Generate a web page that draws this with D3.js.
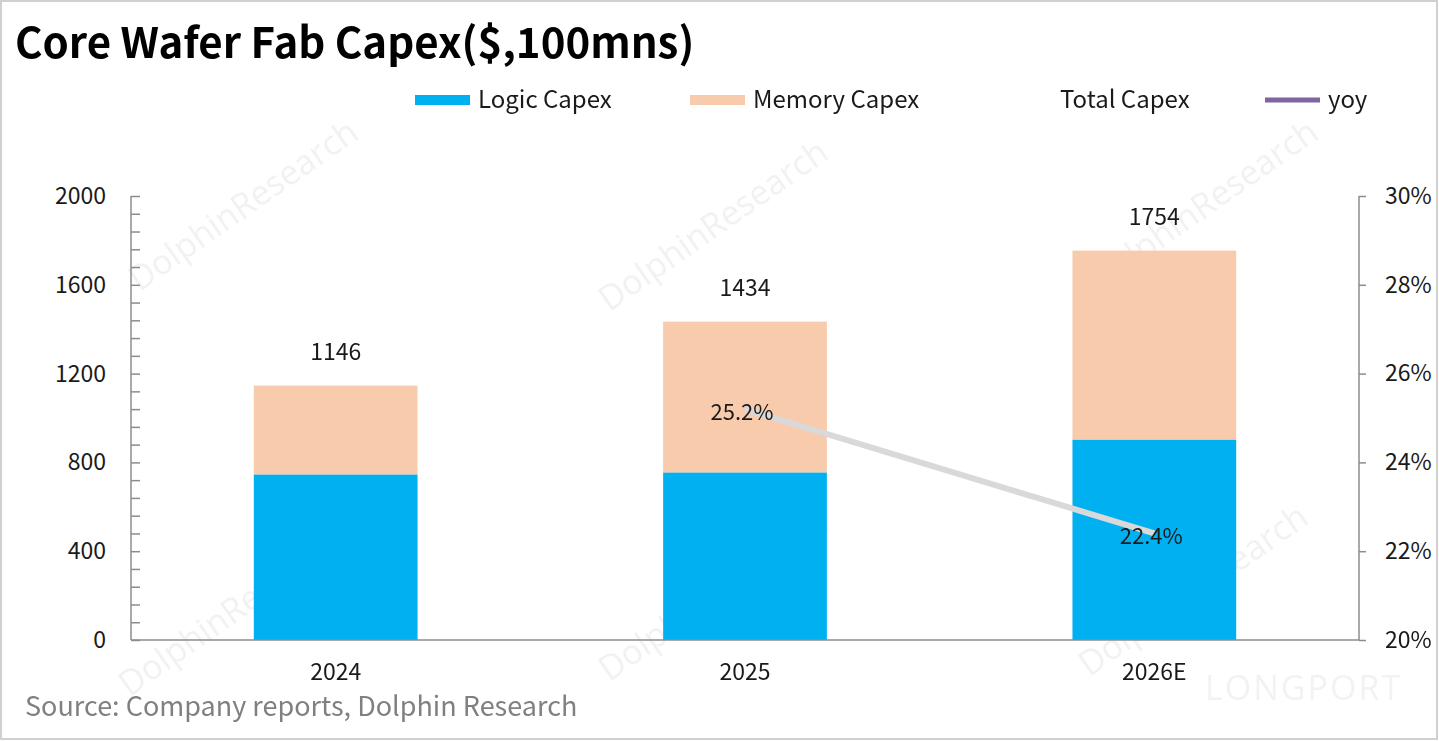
<!DOCTYPE html>
<html><head><meta charset="utf-8">
<script src="https://cdn.jsdelivr.net/npm/d3@7"></script>
<style>
html,body{margin:0;padding:0;background:#fff;}
svg{display:block;font-family:"Noto Sans CJK SC","Noto Sans",sans-serif;}
</style></head>
<body><svg id="c" width="1439" height="741"></svg>
<script>
const categories = ["2024", "2025", "2026E"];
const logicCapex = [746, 755, 903];
const memoryCapex = [400, 679, 851];
const totalCapex = [1146, 1434, 1754];
const yoy = [null, 25.2, 22.4];
const leftTicks = [0, 400, 800, 1200, 1600, 2000];
const rightTicks = [20, 22, 24, 26, 28, 30];
const seriesNames = ["Logic Capex", "Memory Capex", "Total Capex", "yoy"];
const colors = {logic: "#00B0F0", memory: "#F8CBAD", yoy: "#D9D9D9", yoyLegend: "#8064A2"};

const svg = d3.select("#c");
const W = 1439, H = 741;
const m = {left: 131, right: 1359, top: 196, bottom: 640};

// frame
svg.append("rect").attr("x", 1).attr("y", 1).attr("width", W - 3).attr("height", H - 3)
  .attr("fill", "#fff").attr("stroke", "#d0d0d0").attr("stroke-width", 2);

// watermarks
const wm = svg.append("g").attr("fill", "#000").attr("opacity", 0.055)
  .attr("font-family", "Open Sans, sans-serif").attr("font-size", 34);
[[250, 215], [720, 235], [1210, 215], [240, 620], [720, 605], [1200, 600]].forEach(p => {
  wm.append("text").attr("transform", `translate(${p[0]},${p[1]}) rotate(-35)`)
    .attr("text-anchor", "middle").text("DolphinResearch");
});
svg.append("text").attr("x", 1205).attr("y", 700).attr("font-size", 34).attr("fill", "#000")
  .attr("opacity", 0.05).attr("font-family", "Open Sans, sans-serif").attr("letter-spacing", 2).text("LONGPORT");

const x = d3.scaleBand().domain(categories).range([m.left, m.right]).padding(0);
const barW = x.bandwidth() * 0.4;
const y = d3.scaleLinear().domain([0, 2000]).range([m.bottom, m.top]);
const y2 = d3.scaleLinear().domain([20, 30]).range([m.bottom, m.top]);

// bars
const g = svg.append("g");
categories.forEach((c, i) => {
  const cx = x(c) + x.bandwidth() / 2;
  g.append("rect").attr("x", cx - barW / 2).attr("width", barW)
    .attr("y", y(logicCapex[i])).attr("height", y(0) - y(logicCapex[i])).attr("fill", colors.logic);
  g.append("rect").attr("x", cx - barW / 2).attr("width", barW)
    .attr("y", y(logicCapex[i] + memoryCapex[i])).attr("height", y(logicCapex[i]) - y(logicCapex[i] + memoryCapex[i]))
    .attr("fill", colors.memory);
  g.append("text").attr("x", cx).attr("y", y(totalCapex[i]) - 34).attr("dy", "0.35em")
    .attr("text-anchor", "middle").attr("font-size", 23).attr("fill", "#1a1a1a").text(totalCapex[i]);
});

// axes
const axisColor = "#8c8c8c";
const leftAxis = d3.axisLeft(y).tickValues(d3.range(0, 2001, 80)).tickSize(-9).tickFormat("");
const la = svg.append("g").attr("transform", `translate(${m.left},0)`).call(leftAxis);
la.selectAll("path,line").attr("stroke", axisColor).attr("stroke-width", 1.5);
la.select(".domain").attr("d", `M0,${m.top}V${m.bottom}`);
svg.append("g").selectAll("text").data(leftTicks).join("text")
  .attr("x", 106).attr("y", d => y(d)).attr("dy", "0.35em").attr("text-anchor", "end")
  .attr("font-size", 23).attr("fill", "#1a1a1a").text(d => d);

const rightAxis = d3.axisRight(y2).tickValues(rightTicks).tickSize(7).tickFormat(d => d + "%").tickPadding(19);
const ra = svg.append("g").attr("transform", `translate(${m.right},0)`).call(rightAxis);
ra.selectAll("path,line").attr("stroke", axisColor).attr("stroke-width", 1.5);
ra.select(".domain").attr("d", `M0,${m.top}V${m.bottom}`);
ra.selectAll("text").attr("font-size", 23).attr("fill", "#1a1a1a").attr("font-family", "Noto Sans CJK SC, sans-serif");

svg.append("line").attr("x1", m.left).attr("x2", m.right).attr("y1", m.bottom).attr("y2", m.bottom)
  .attr("stroke", axisColor).attr("stroke-width", 1.5);
svg.append("g").selectAll("text").data(categories).join("text")
  .attr("x", d => x(d) + x.bandwidth() / 2).attr("y", 672).attr("dy", "0.35em").attr("text-anchor", "middle")
  .attr("font-size", 23).attr("fill", "#1a1a1a").text(d => d);

// yoy line
const pts = categories.map((c, i) => ({c, v: yoy[i]})).filter(d => d.v != null);
const line = d3.line().x(d => x(d.c) + x.bandwidth() / 2).y(d => y2(d.v));
svg.append("path").datum(pts).attr("d", line).attr("fill", "none").attr("stroke", colors.yoy).attr("stroke-width", 6);
svg.append("g").selectAll("text").data(pts).join("text")
  .attr("x", d => x(d.c) + x.bandwidth() / 2 - 3).attr("y", d => y2(d.v) + 3).attr("dy", "0.35em").attr("text-anchor", "middle")
  .attr("font-size", 22).attr("fill", "#1a1a1a").text(d => d.v.toFixed(1) + "%");

// legend
const lg = svg.append("g").attr("font-size", 24).attr("fill", "#1a1a1a");
const legendX = [415, 690, 997, 1265];
seriesNames.forEach((n, i) => {
  const lx = legendX[i];
  if (i === 0 || i === 1) {
    lg.append("rect").attr("x", lx).attr("y", 95).attr("width", 55).attr("height", 10)
      .attr("fill", i === 0 ? colors.logic : colors.memory);
  } else if (i === 3) {
    lg.append("line").attr("x1", lx).attr("x2", lx + 55).attr("y1", 100).attr("y2", 100)
      .attr("stroke", colors.yoyLegend).attr("stroke-width", 5);
  }
  lg.append("text").attr("x", lx + 63).attr("y", 100).attr("dy", "0.35em").text(n);
});

// title & source
svg.append("text").attr("x", 15).attr("y", 58).attr("font-size", 42).attr("font-weight", "bold")
  .attr("fill", "#000").text("Core Wafer Fab Capex($,100mns)");
svg.append("text").attr("x", 25).attr("y", 716).attr("font-size", 27).attr("fill", "#808080")
  .text("Source: Company reports, Dolphin Research");
</script></body></html>
